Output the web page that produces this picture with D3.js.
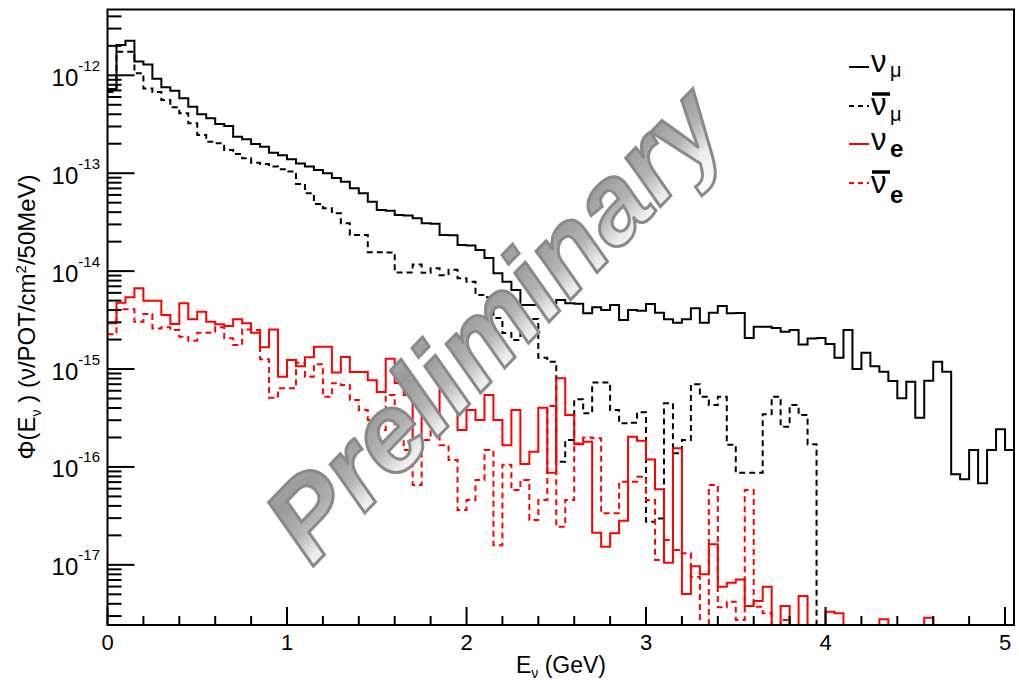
<!DOCTYPE html>
<html>
<head>
<meta charset="utf-8">
<script src="https://cdn.jsdelivr.net/npm/d3@7"></script>
<style>
body { margin: 0; background: #fff; }
svg text { font-family: "Liberation Sans", Arial, Helvetica, sans-serif; }
</style>
</head>
<body>
<div id="chart"></div>
<script>
// 50 MeV bins from 0 to 5.05 GeV
const binWidth = 0.05;
const xMax = 5.05;
const yMin = 2.43e-18, yMax = 4.7e-12;
const xTickLabels = [0, 1, 2, 3, 4, 5];
const yTickExps = [-17, -16, -15, -14, -13, -12];

// flux per bin (nu/POT/cm2/50MeV)
const numu = [
  7.25e-13, 2.04e-12, 2.26e-12, 1.38e-12, 1.29e-12, 9.23e-13, 7.55e-13, 6.96e-13, 5.83e-13, 4.78e-13,
  4.0e-13, 3.64e-13, 3.18e-13, 3.03e-13, 2.36e-13, 2.22e-13, 1.99e-13, 1.86e-13, 1.62e-13, 1.53e-13,
  1.39e-13, 1.26e-13, 1.17e-13, 1.08e-13, 1.0e-13, 8.93e-14, 8.2e-14, 7.02e-14, 6.24e-14, 5.11e-14,
  4.21e-14, 4.14e-14, 3.74e-14, 3.7e-14, 3.46e-14, 3.08e-14, 3.05e-14, 2.34e-14, 2.32e-14, 1.85e-14,
  1.83e-14, 1.64e-14, 1.36e-14, 9.5e-15, 7.8e-15, 6.42e-15, 4.51e-15, 4.5e-15, 4.69e-15, 4.69e-15,
  5.07e-15, 4.69e-15, 4.65e-15, 3.71e-15, 4.27e-15, 4.0e-15, 4.51e-15, 3.17e-15, 4.0e-15, 3.94e-15,
  4.62e-15, 3.76e-15, 3.22e-15, 2.97e-15, 3.22e-15, 4.17e-15, 2.97e-15, 3.76e-15, 4.4e-15, 3.71e-15,
  3.73e-15, 2.07e-15, 2.7e-15, 2.7e-15, 2.62e-15, 2.4e-15, 2.5e-15, 1.78e-15, 2.05e-15, 2.08e-15,
  1.8e-15, 1.3e-15, 2.5e-15, 1.0e-15, 1.47e-15, 1.07e-15, 9.4e-16, 7.55e-16, 5.02e-16, 7.43e-16,
  3.18e-16, 7.6e-16, 1.19e-15, 9.4e-16, 8.4e-17, 7.5e-17, 1.49e-16, 6.8e-17, 1.49e-16, 2.42e-16,
  1.49e-16
];

const numubar = [
  6.75e-13, 1.74e-12, 1.74e-12, 1.05e-12, 7.33e-13, 6.75e-13, 5.6e-13, 4.71e-13, 4.09e-13, 3.23e-13,
  2.46e-13, 2.1e-13, 2.02e-13, 1.73e-13, 1.57e-13, 1.42e-13, 1.28e-13, 1.24e-13, 1.17e-13, 1.1e-13,
  1.04e-13, 7.76e-14, 6.24e-14, 4.85e-14, 4.38e-14, 3.9e-14, 3.08e-14, 2.34e-14, 2.34e-14, 1.56e-14,
  1.56e-14, 1.55e-14, 9.7e-15, 9.7e-15, 1.17e-14, 9.6e-15, 1.07e-14, 9.1e-15, 1.03e-14, 8.45e-15,
  7.8e-15, 5.7e-15, 5.4e-15, 3.32e-15, 2.33e-15, 1.98e-15, 2.62e-15, 3.24e-15, 1.3e-15, 1.19e-15,
  1.13e-16, 1.88e-16, 4.9e-16, 3.53e-16, 7.3e-16, 7.3e-16, 3.81e-16, 2.79e-16, 2.83e-16, 3.61e-16,
  2.76e-17, 2.98e-17, 4.46e-16, 1.38e-16, 1.88e-16, 6.98e-16, 5.21e-16, 4.29e-16, 5.21e-16, 1.69e-16,
  8.72e-17, 8.72e-17, 8.72e-17, 3.45e-16, 5.21e-16, 2.57e-16, 4.29e-16, 3.39e-16, 1.71e-16, 0,
  0, 0, 0, 0, 0, 0, 0, 0, 0, 0,
  0, 0, 0, 0, 0, 0, 0, 0, 0, 0,
  0
];

const nue = [
  2.93e-15, 4.75e-15, 5.4e-15, 6.68e-15, 4.98e-15, 4.98e-15, 3.56e-15, 2.88e-15, 4.69e-15, 3.22e-15,
  3.85e-15, 3.04e-15, 2.86e-15, 2.75e-15, 3.22e-15, 2.93e-15, 2.35e-15, 1.67e-15, 2.54e-15, 8.35e-16,
  1.24e-15, 1.07e-15, 1.32e-15, 1.69e-15, 1.69e-15, 9.2e-16, 1.33e-15, 9.3e-16, 9.3e-16, 7.7e-16,
  5.83e-16, 1.27e-15, 7.2e-16, 5.43e-16, 1.49e-16, 3.81e-16, 2.68e-16, 6.1e-16, 5.43e-16, 2.38e-16,
  3.81e-16, 3.01e-16, 5.43e-16, 3.01e-16, 1.67e-16, 3.81e-16, 1.07e-16, 1.43e-16, 4.03e-16, 8.72e-17,
  8.04e-16, 3.39e-16, 1.71e-16, 1.81e-16, 2.13e-17, 1.53e-17, 2.1e-17, 2.82e-17, 2.03e-16, 1.85e-16,
  1.19e-16, 5.9e-17, 1.05e-17, 1.55e-16, 5.03e-18, 9.7e-18, 8.0e-18, 1.62e-17, 5.97e-18, 6.57e-18,
  7.1e-18, 3.79e-18, 4.27e-18, 5.97e-18, 0, 3.79e-18, 0, 4.8e-18, 0, 0,
  3.32e-18, 3.2e-18, 0, 0, 0, 0, 2.78e-18, 0, 0, 0,
  0, 2.88e-18, 0, 0, 0, 0, 0, 0, 0, 0,
  0
];

const nuebar = [
  2.26e-15, 4.07e-15, 4.07e-15, 3.04e-15, 3.65e-15, 2.6e-15, 2.67e-15, 2.5e-15, 2.14e-15, 1.95e-15,
  2.35e-15, 2.35e-15, 2.67e-15, 2.06e-15, 1.76e-15, 2.54e-15, 2.5e-15, 1.26e-15, 5.09e-16, 6.35e-16,
  6.35e-16, 1.16e-15, 8.35e-16, 1.12e-15, 5.21e-16, 7.15e-16, 6.86e-16, 4.83e-16, 3.81e-16, 3.01e-16,
  2.38e-16, 5.43e-16, 1.88e-16, 1.49e-16, 6.54e-17, 1.88e-16, 3.01e-16, 1.67e-16, 1.18e-16, 3.63e-17,
  4.6e-17, 7.35e-17, 1.49e-16, 1.59e-17, 1.05e-16, 5.8e-17, 7.35e-17, 2.87e-17, 4.6e-17, 4.19e-16,
  2.45e-17, 4.6e-17, 1.74e-16, 2.0e-16, 1.96e-16, 3.36e-17, 3.36e-17, 7.07e-17, 7.07e-17, 7.94e-17,
  4.6e-17, 1.12e-17, 1.79e-17, 1.42e-17, 1.31e-17, 7.56e-18, 0, 6.54e-17, 3.68e-18, 4.2e-18,
  2.73e-18, 5.8e-17, 3.73e-18, 3.2e-18, 0, 2.73e-18, 0, 0, 0, 0,
  0, 0, 0, 0, 0, 0, 0, 0, 0, 0,
  0, 0, 0, 0, 0, 0, 0, 0, 0, 0,
  0
];

const width = 1019, height = 680;
const frame = { left: 107.5, right: 1014, top: 9.5, bottom: 625 };

const svg = d3.select("#chart").append("svg")
  .attr("width", width)
  .attr("height", height);

const x = d3.scaleLinear().domain([0, xMax]).range([frame.left, frame.right]);
const y = d3.scaleLog().domain([yMin, yMax]).range([frame.bottom, frame.top]);

const defs = svg.append("defs");
defs.append("clipPath").attr("id", "plotClip")
  .append("rect")
  .attr("x", frame.left).attr("y", frame.top)
  .attr("width", frame.right - frame.left).attr("height", frame.bottom - frame.top);

const grad = defs.append("linearGradient").attr("id", "wmGrad")
  .attr("x1", 0).attr("y1", 0).attr("x2", 0).attr("y2", 1);
[[0, "#b0b0b0"], [0.3, "#9a9a9a"], [0.55, "#b4b4b4"], [0.75, "#ececec"], [1, "#ffffff"]]
  .forEach(s => grad.append("stop").attr("offset", s[0]).attr("stop-color", s[1]));

// histogram outline: one point per bin low edge plus the last upper edge
function steps(values) {
  const pts = values.map((v, i) => [i * binWidth, v]);
  pts.push([values.length * binWidth, values[values.length - 1]]);
  return pts;
}

const line = d3.line()
  .curve(d3.curveStepAfter)
  .x(d => x(d[0]))
  .y(d => y(Math.max(d[1], yMin)));

const series = [
  { name: "numu", values: numu, color: "#000", dash: null },
  { name: "numubar", values: numubar, color: "#000", dash: "6,4" },
  { name: "nue", values: nue, color: "#ff0000", dash: null },
  { name: "nuebar", values: nuebar, color: "#ff0000", dash: "6,4" }
];

const plot = svg.append("g").attr("clip-path", "url(#plotClip)");
plot.selectAll("path.hist")
  .data(series)
  .join("path")
  .attr("class", "hist")
  .attr("d", d => line(steps(d.values)))
  .attr("fill", "none")
  .attr("stroke", d => d.color)
  .attr("stroke-width", 2)
  .attr("stroke-dasharray", d => d.dash);

// frame
svg.append("rect")
  .attr("x", frame.left).attr("y", frame.top)
  .attr("width", frame.right - frame.left).attr("height", frame.bottom - frame.top)
  .attr("fill", "none").attr("stroke", "#000").attr("stroke-width", 2);

// x ticks (inside, pointing up)
const xMinor = d3.range(0, xMax + 1e-9, 0.2).filter(v => Math.abs(v - Math.round(v)) > 1e-6);
svg.append("g").selectAll("line.xmin")
  .data(xMinor).join("line")
  .attr("x1", d => x(d)).attr("x2", d => x(d))
  .attr("y1", frame.bottom).attr("y2", frame.bottom - 9)
  .attr("stroke", "#000").attr("stroke-width", 2);
svg.append("g").selectAll("line.xmaj")
  .data(xTickLabels).join("line")
  .attr("x1", d => x(d)).attr("x2", d => x(d))
  .attr("y1", frame.bottom).attr("y2", frame.bottom - 18)
  .attr("stroke", "#000").attr("stroke-width", 2);
svg.append("g").selectAll("text")
  .data(xTickLabels).join("text")
  .attr("x", d => x(d)).attr("y", 650)
  .attr("text-anchor", "middle")
  .style("font-size", "22px")
  .text(d => d);

// y ticks: decades plus 2..9 minors
const yMinor = [];
for (let e = -18; e <= -12; e++) {
  for (let k = 2; k <= 9; k++) {
    const v = k * Math.pow(10, e);
    if (v >= yMin && v <= yMax) yMinor.push(v);
  }
}
svg.append("g").selectAll("line")
  .data(yMinor).join("line")
  .attr("x1", frame.left).attr("x2", frame.left + 14)
  .attr("y1", d => y(d)).attr("y2", d => y(d))
  .attr("stroke", "#000").attr("stroke-width", 2);
svg.append("g").selectAll("line")
  .data(yTickExps).join("line")
  .attr("x1", frame.left).attr("x2", frame.left + 27)
  .attr("y1", d => y(Math.pow(10, d))).attr("y2", d => y(Math.pow(10, d)))
  .attr("stroke", "#000").attr("stroke-width", 2);
const yLab = svg.append("g").selectAll("text")
  .data(yTickExps).join("text")
  .attr("x", 100)
  .attr("y", d => y(Math.pow(10, d)) + 10.5)
  .attr("text-anchor", "end");
yLab.append("tspan").style("font-size", "24px").text("10");
yLab.append("tspan").style("font-size", "15px").attr("dy", -15).text(d => d);

// axis titles
const xt = svg.append("text")
  .attr("x", 561).attr("y", 673)
  .attr("text-anchor", "middle")
  .style("font-size", "23px");
xt.append("tspan").text("E");
xt.append("tspan").attr("dy", 5).style("font-size", "14px").text("ν");
xt.append("tspan").attr("dy", -5).text(" (GeV)");

const yt = svg.append("text")
  .attr("transform", "translate(35,317) rotate(-90)")
  .attr("text-anchor", "middle")
  .style("font-size", "24px");
yt.append("tspan").text("Φ(E");
yt.append("tspan").attr("dy", 6).style("font-size", "14px").text("ν");
yt.append("tspan").attr("dy", -6).text(" ) (ν/POT/cm");
yt.append("tspan").attr("dy", -9).style("font-size", "15px").text("2");
yt.append("tspan").attr("dy", 9).text("/50MeV)");

// legend
const legend = [
  { color: "#000", dash: null, y: 67, bar: false, sub: "μ", subBold: false, base: 72, subBase: 77 },
  { color: "#000", dash: "5,4", y: 106, bar: true, sub: "μ", subBold: false, base: 115, subBase: 121 },
  { color: "#ff0000", dash: null, y: 144, bar: false, sub: "e", subBold: true, base: 150, subBase: 157 },
  { color: "#ff0000", dash: "5,4", y: 183, bar: true, sub: "e", subBold: true, base: 193, subBase: 203 }
];
const lg = svg.append("g").selectAll("g").data(legend).join("g");
lg.append("line")
  .attr("x1", 849).attr("x2", 869)
  .attr("y1", d => d.y).attr("y2", d => d.y)
  .attr("stroke", d => d.color).attr("stroke-width", 2)
  .attr("stroke-dasharray", d => d.dash);
lg.append("text")
  .attr("x", 871).attr("y", d => d.base)
  .style("font-size", "31px")
  .text("ν");
lg.filter(d => d.bar).append("line")
  .attr("x1", 872).attr("x2", 890)
  .attr("y1", d => d.base - 21).attr("y2", d => d.base - 21)
  .attr("stroke", "#000").attr("stroke-width", 3.5);
lg.append("text")
  .attr("x", 890).attr("y", d => d.subBase)
  .style("font-size", d => d.subBold ? "24px" : "20px")
  .style("font-weight", d => d.subBold ? "bold" : "normal")
  .text(d => d.sub);

// watermark
svg.append("text")
  .attr("transform", "translate(522,350) rotate(-46)")
  .attr("text-anchor", "middle")
  .style("font-size", "111px")
  .style("font-weight", "bold")
  .style("font-style", "italic")
  .attr("fill", "url(#wmGrad)")
  .attr("stroke", "#8a8a8a")
  .attr("stroke-width", 3)
  .text("Preliminary");
</script>
</body>
</html>
